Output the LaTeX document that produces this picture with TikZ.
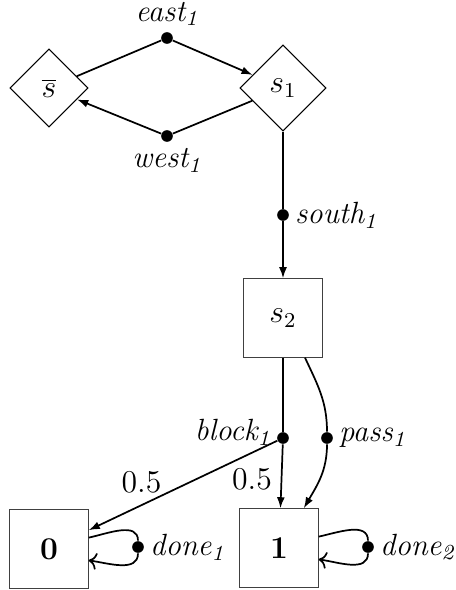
\documentclass[tikz,border=0pt]{standalone}
\usetikzlibrary{shapes.geometric,arrows.meta}
\begin{document}
\begin{tikzpicture}[x=0.378pt,y=-0.378pt,
  txt/.style={font=\fontsize{11.6}{14}\selectfont},
  dstate/.style={draw, diamond, aspect=1, inner sep=0pt, txt},
  bstate/.style={draw=black!75, rectangle, minimum size=29.6pt, inner sep=0pt, txt},
  act/.style={circle, fill=black, inner sep=0pt, minimum size=4.4pt},
  lab/.style={font=\fontsize{11.6}{14}\selectfont\itshape, inner sep=2pt},
  trans/.style={line width=0.65pt},
  tr/.style={trans, -{Latex[length=4.2pt,width=3pt]}},
  loopback/.style={trans, ->}]
  \useasboundingbox (0,0) rectangle (455,590);

  % states
  \node[dstate, minimum size=29.5pt] (sbar) at (49,88) {$\overline{s}$};
  \node[dstate, minimum size=32.5pt] (s1) at (283,88) {$s_1$};
  \node[bstate] (s2) at (283,318) {$s_2$};
  \node[bstate] (zero) at (49,549) {$\mathbf{0}$};
  \node[bstate] (one) at (279,548) {$\mathbf{1}$};

  % actions
  \node[act, label={[lab]above:east\textsubscript{1}}] (east1) at (167,38) {};
  \node[act, label={[lab]below:west\textsubscript{1}}] (west1) at (167,136) {};
  \node[act, label={[lab]right:south\textsubscript{1}}] (south1) at (283,215) {};
  \node[act, label={[lab, yshift=2pt]left:block\textsubscript{1}}] (block1) at (283,438) {};
  \node[act, label={[lab]right:pass\textsubscript{1}}] (pass1) at (327,438) {};
  \node[act, label={[lab]right:done\textsubscript{1}}] (done1) at (138,547) {};
  \node[act, label={[lab]right:done\textsubscript{2}}] (done2) at (368,547) {};

  % transitions
  \draw[trans] (sbar) -- (east1);
  \draw[tr] (east1) -- (s1);
  \draw[trans] (s1) -- (west1);
  \draw[tr] (west1) -- (sbar);
  \draw[trans] (s1) -- (south1);
  \draw[tr] (south1) -- (s2);
  \draw[trans] (s2) -- (block1);
  \draw[tr] (block1) -- node[left, txt, pos=0.55] (p1) {$0.5$} (one);
  \draw[tr] (block1) -- node[above=1pt, txt, pos=0.72] (p0) {$0.5$} (zero);
  \draw[trans] (s2.-61) to[out=-65, in=90] (pass1);
  \draw[tr] (pass1) to[out=-90, in=60] (one.58);
  \draw[trans] (zero.16) to[out=12, in=90] (done1);
  \draw[loopback] (done1) to[out=-90, in=-8] (zero.-16);
  \draw[trans] (one.16) to[out=12, in=90] (done2);
  \draw[loopback] (done2) to[out=-90, in=-8] (one.-16);
\end{tikzpicture}
\end{document}
